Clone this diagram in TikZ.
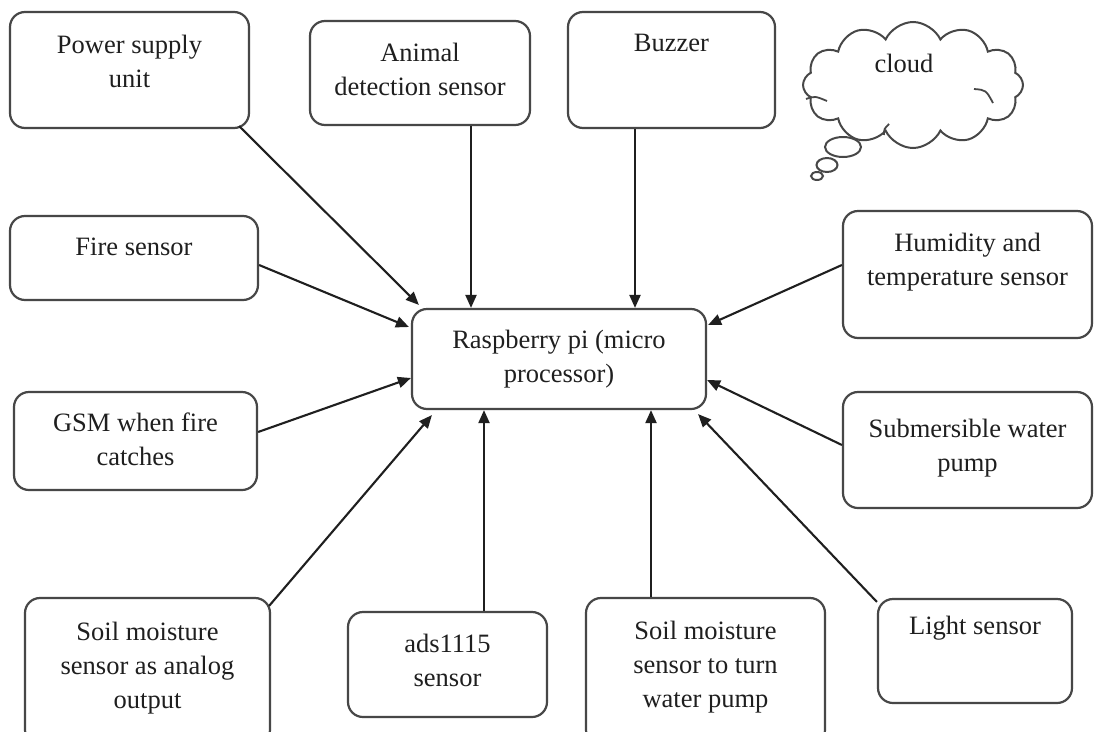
\documentclass[tikz,border=0pt]{standalone}
\usepackage{fontspec}
\setmainfont{Liberation Serif}
\usetikzlibrary{arrows.meta,shapes.symbols,shapes.geometric,calc}
\begin{document}
\begin{tikzpicture}[x=1pt,y=-1pt,
  box/.style={draw=black!72, line width=2.2pt, rounded corners=15pt, fill=white, inner sep=0pt},
  txt/.style={align=center, font=\fontsize{26.5}{34}\selectfont, text=black!88, inner sep=0pt},
  arr/.style={draw=black!88, line width=2.1pt, -{Triangle[length=13pt,width=11pt]}},
  bubble/.style={draw=black!72, line width=2pt, fill=white}]
\clip (0,0) rectangle (1094,731);
\fill[white] (0,0) rectangle (1094,731);

% boxes
\node[box, txt, minimum width=294pt, minimum height=100pt] (rpi) at (559,359) {Raspberry pi (micro\\processor)};

\node[box, minimum width=239pt, minimum height=116pt] (psu) at (129.5,70) {};
\node[txt] (psut) at (129.5,61.5) {Power supply\\unit};

\node[box, minimum width=220pt, minimum height=104pt] (animal) at (420,73) {};
\node[txt] (animalt) at (420,69.5) {Animal\\detection sensor};

\node[box, minimum width=207pt, minimum height=116pt] (buzzer) at (671.5,70) {};
\node[txt] (buzzert) at (671.5,43) {Buzzer};

\node[box, minimum width=248pt, minimum height=84pt] (fire) at (134,258) {};
\node[txt] (firet) at (134,247) {Fire sensor};

\node[box, minimum width=249pt, minimum height=127pt] (humid) at (967.5,274.5) {};
\node[txt] (humidt) at (967.5,262.5) {Humidity and\\temperature sensor};

\node[box, minimum width=243pt, minimum height=98pt] (gsm) at (135.5,441) {};
\node[txt] (gsmt) at (135.5,439.5) {GSM when fire\\catches};

\node[box, minimum width=249pt, minimum height=116pt] (sub) at (967.5,450) {};
\node[txt] (subt) at (967.5,448) {Submersible water\\pump};

\node[box, minimum width=245pt, minimum height=147pt] (soila) at (147.5,671.5) {};
\node[txt] (soilat) at (147.5,668) {Soil moisture\\sensor as analog\\output};

\node[box, minimum width=199pt, minimum height=105pt] (ads) at (447.5,664.5) {};
\node[txt] (adst) at (447.5,660.5) {ads1115\\sensor};

\node[box, minimum width=239pt, minimum height=147pt] (soilb) at (705.5,671.5) {};
\node[txt] (soilbt) at (705.5,667) {Soil moisture\\sensor to turn\\water pump};

\node[box, minimum width=194pt, minimum height=104pt] (light) at (975,651) {};
\node[txt] (lightt) at (975,628) {Light sensor};

% cloud
\node[cloud, draw=black!72, line width=2pt, fill=white, cloud puffs=12, cloud puff arc=130,
      cloud ignores aspect, minimum width=220pt, minimum height=126pt, inner sep=0pt] (cloud) at (913,85) {};
\draw[black!72, line width=1.8pt] (806,99) .. controls (815,96) .. (827,101);
\draw[black!72, line width=1.8pt] (974,89) .. controls (986,90) .. (993,103);
\draw[black!72, line width=1.8pt] (884,135) .. controls (884,129) .. (889,124);
\node[bubble, ellipse, minimum width=36pt, minimum height=20pt, inner sep=0pt] (b1) at (843,147) {};
\node[bubble, ellipse, minimum width=21pt, minimum height=14pt, inner sep=0pt] (b2) at (827,165) {};
\node[bubble, ellipse, minimum width=12pt, minimum height=8pt, inner sep=0pt] (b3) at (817,176) {};
\node[txt] (cloudt) at (904,63) {cloud};

% arrows
\draw[arr] ([xshift=-11pt,yshift=3pt]psu.south east) -- ([xshift=8pt,yshift=3pt]rpi.north west);
\draw[arr] (animal.south -| 471,0) -- (rpi.north -| 471,0);
\draw[arr] (buzzer.south -| 635,0) -- (rpi.north -| 635,0);
\draw[arr] ([yshift=-7pt]fire.east) -- ([xshift=-2pt,yshift=32pt]rpi.west);
\draw[arr] ([yshift=9.5pt]humid.west) -- ([xshift=1pt,yshift=34pt]rpi.east);
\draw[arr] ([yshift=9pt]gsm.east) -- ([yshift=-19pt]rpi.west);
\draw[arr] ([yshift=5pt]sub.west) -- ([yshift=-21pt]rpi.east);
\draw[arr] ([xshift=-2pt,yshift=-9pt]soila.north east) -- ([xshift=21pt,yshift=-5pt]rpi.south west);
\draw[arr] (ads.north -| 484,0) -- (rpi.south -| 484,0);
\draw[arr] (soilb.north -| 651,0) -- (rpi.south -| 651,0);
\draw[arr] ([yshift=-4pt]light.north west) -- ([xshift=-9pt,yshift=-4pt]rpi.south east);
\end{tikzpicture}
\end{document}
